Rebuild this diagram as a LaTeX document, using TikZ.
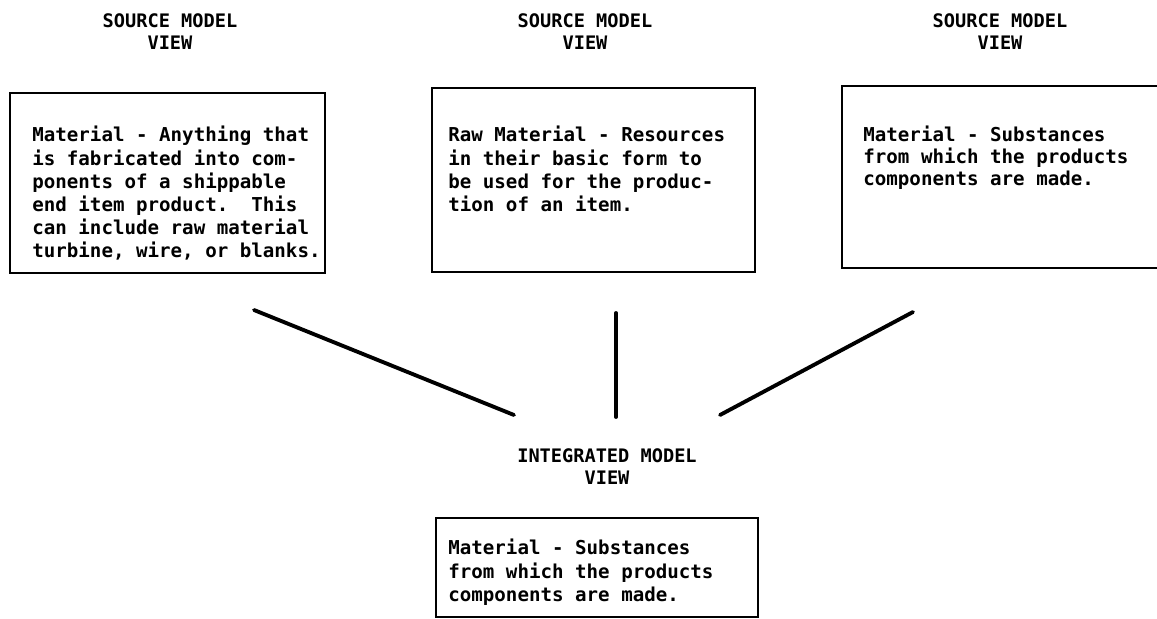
\documentclass[tikz,border=0pt]{standalone}
\usepackage{fontspec}
\setmonofont{DejaVu Sans Mono}
\tikzset{
  modelbox/.style={draw,line width=1.4pt,inner sep=0pt},
  viewhead/.style={font=\ttfamily\bfseries\fontsize{10.6}{12.6}\selectfont,align=center,inner sep=0pt},
  viewtext/.style={font=\ttfamily\bfseries\fontsize{10.9}{13.2}\selectfont,align=left,inner sep=0pt,anchor=north west},
  link/.style={line width=2.2pt,line cap=round}
}

\begin{document}
\begin{tikzpicture}[x=0.02cm,y=-0.02cm]
        \useasboundingbox (0,0) rectangle (1157,619);
        \node[viewhead] (headA) at (170,32) {SOURCE MODEL\\VIEW};
        \node[viewhead] (headB) at (585,32) {SOURCE MODEL\\VIEW};
        \node[viewhead] (headC) at (1000,32) {SOURCE MODEL\\VIEW};
        \node[modelbox,minimum width=6.3cm,minimum height=3.6cm] (boxA) at (167.5,183) {};
        \node[modelbox,minimum width=6.46cm,minimum height=3.68cm] (boxB) at (593.5,180) {};
        \node[modelbox,minimum width=6.46cm,minimum height=3.64cm] (boxC) at (1003.5,177) {};
        \node[viewtext] (textA) at (32,126) {Material - Anything that\\is fabricated into com-\\ponents of a shippable\\end item product.~~This\\can include raw material\\turbine, wire, or blanks.};
        \node[viewtext] (textB) at (448,126) {Raw Material - Resources\\in their basic form to\\be used for the produc-\\tion of an item.};
        \node[viewtext,font=\ttfamily\bfseries\fontsize{10.9}{12.3}\selectfont] (textC) at (863,126) {Material - Substances\\from which the products\\components are made.};
        \coordinate (linkA1) at (254,310);
        \coordinate (linkA2) at (514,415);
        \coordinate (linkB1) at (616,313);
        \coordinate (linkB2) at (616,417);
        \coordinate (linkC1) at (913,312);
        \coordinate (linkC2) at (720,415);
        \draw[link] (linkA1) -- (linkA2);
        \draw[link] (linkB1) -- (linkB2);
        \draw[link] (linkC1) -- (linkC2);
        \node[viewhead] (headD) at (607,467) {INTEGRATED MODEL\\VIEW};
        \node[modelbox,minimum width=6.44cm,minimum height=1.98cm] (boxD) at (597,567.5) {};
        \node[viewtext] (textD) at (448,539) {Material - Substances\\from which the products\\components are made.};
    \end{tikzpicture}
\end{document}
